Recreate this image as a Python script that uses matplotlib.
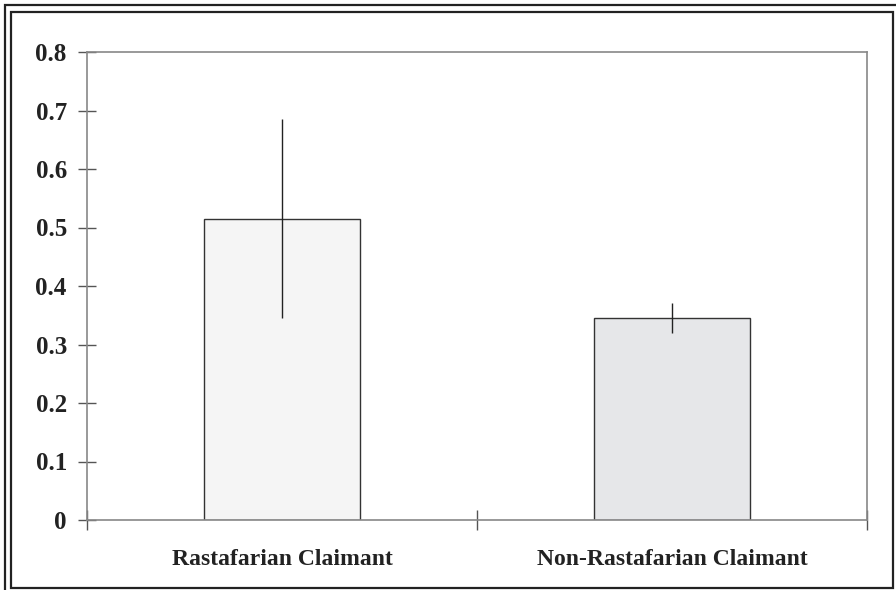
import numpy as np
import matplotlib.pyplot as plt
from matplotlib.patches import Rectangle

groups = ["Rastafarian Claimant", "Non-Rastafarian Claimant"]
means = [0.515, 0.345]
errors = [0.170, 0.026]
colors = ["#f5f5f5", "#e6e7e9"]
yticks = [0, 0.1, 0.2, 0.3, 0.4, 0.5, 0.6, 0.7, 0.8]
ytick_labels = ["0", "0.1", "0.2", "0.3", "0.4", "0.5", "0.6", "0.7", "0.8"]

plt.rcParams['font.family'] = ['Liberation Serif', 'DejaVu Serif']

fig = plt.figure(figsize=(8.96, 5.9), dpi=100)
W, H = 896, 590
ax = fig.add_axes([87 / W, 1 - 520 / H, 780 / W, 468 / H])

x = np.arange(len(groups))
ax.bar(x, means, width=0.4, color=colors, edgecolor="#333333", linewidth=1.0, zorder=2)
ax.errorbar(x, means, yerr=errors, fmt="none", ecolor="#222222", elinewidth=1.0,
            capsize=0, zorder=3)

ax.set_xlim(-0.5, 1.5)
ax.set_ylim(0, 0.8)
ax.set_yticks(yticks)
ax.set_yticklabels(ytick_labels)
ax.set_xticks([-0.5, 0.5, 1.5], minor=False)
ax.set_xticklabels(["", "", ""])
ax.set_xticks(x, minor=True)
ax.set_xticklabels(groups, minor=True)

for s in ax.spines.values():
    s.set_color("#888888")
    s.set_linewidth(1.2)

ax.tick_params(axis="y", which="major", direction="inout", length=13, width=1.0,
               color="#555555", pad=8, labelsize=18, labelcolor="#222222")
ax.tick_params(axis="x", which="major", direction="inout", length=14, width=1.0,
               color="#555555")
ax.tick_params(axis="x", which="minor", length=0, pad=21, labelsize=17,
               labelcolor="#222222")
for lab in ax.get_yticklabels() + ax.get_xticklabels(minor=True):
    lab.set_fontweight("bold")

# double frame around the figure
fig.add_artist(Rectangle((4.5 / W, 1 - 700 / H), 1, 695.5 / H, transform=fig.transFigure,
                         fill=False, edgecolor="#222222", linewidth=1.6))
fig.add_artist(Rectangle((10.5 / W, 1 - 588 / H), 882.5 / W, 576.5 / H,
                         transform=fig.transFigure, fill=False, edgecolor="#222222",
                         linewidth=1.6))

fig.savefig("out.png", dpi=100)
